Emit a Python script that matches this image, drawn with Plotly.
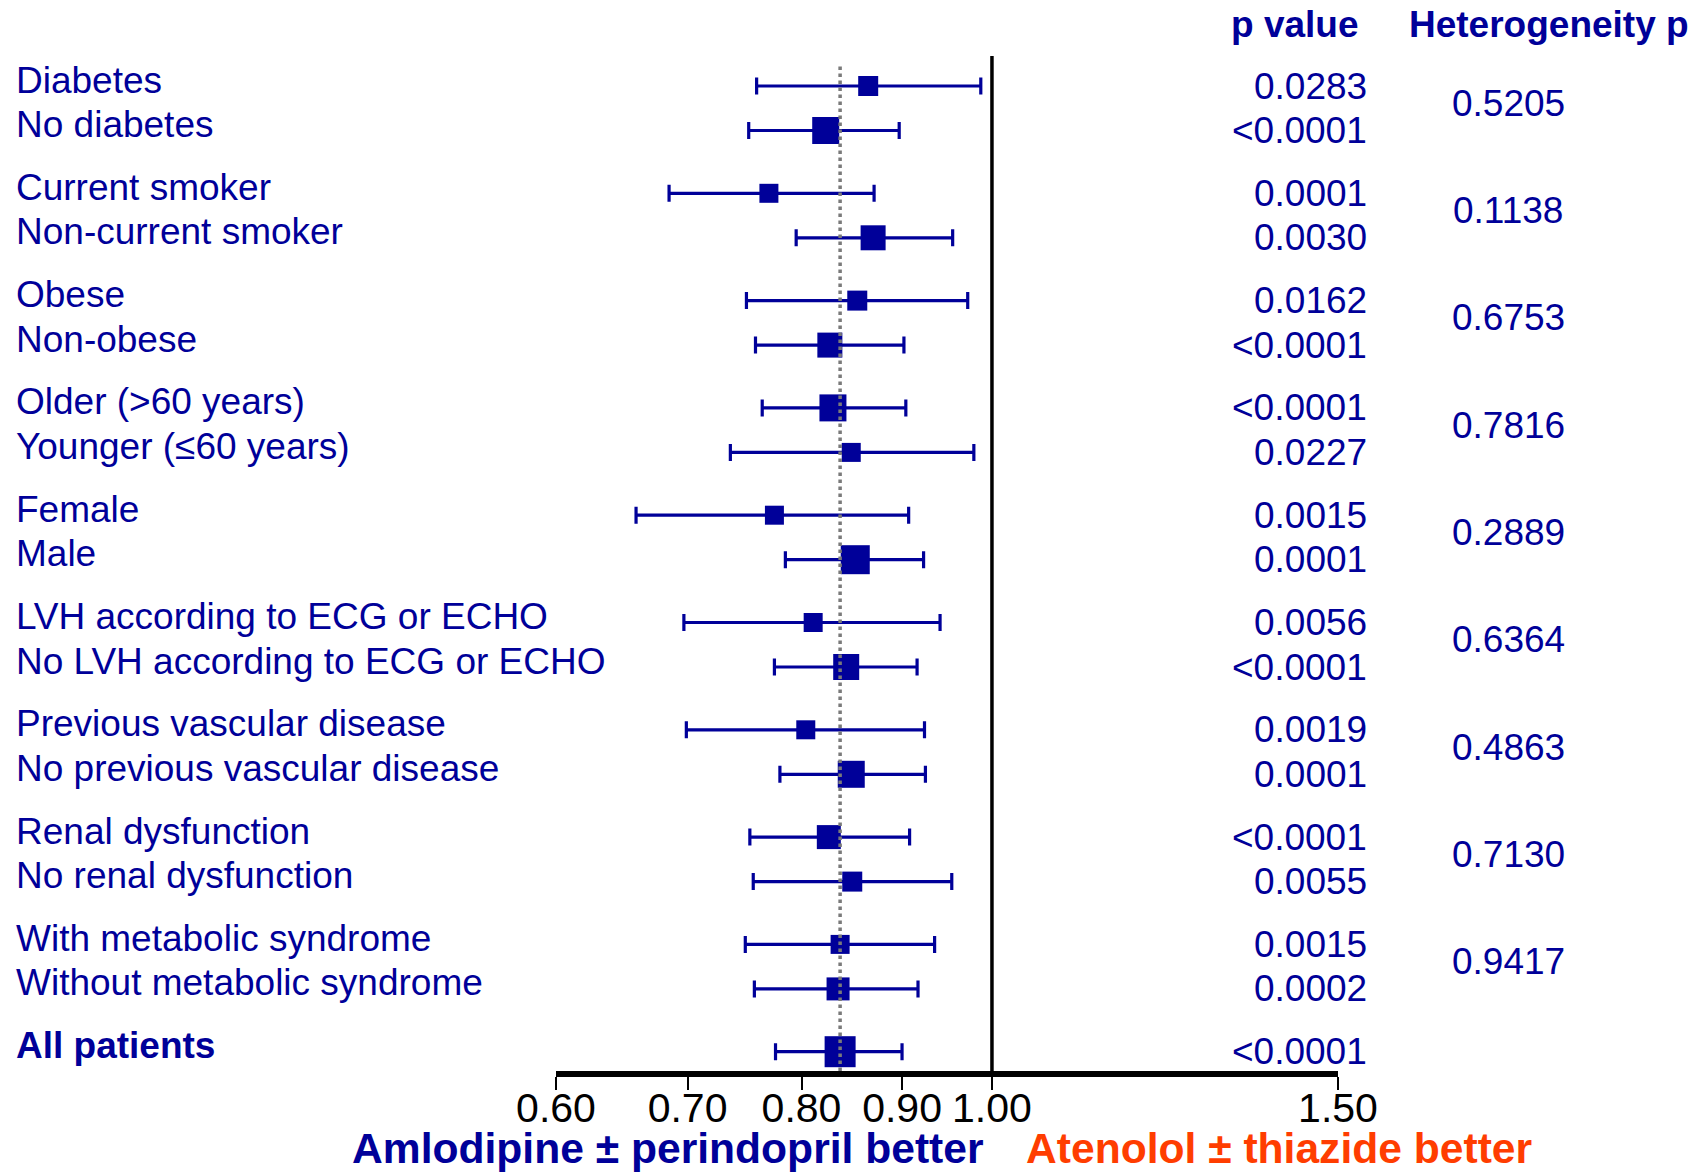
import plotly.graph_objects as go

# ---------------- data ----------------
labels = [
    "Diabetes", "No diabetes",
    "Current smoker", "Non-current smoker",
    "Obese", "Non-obese",
    "Older (>60 years)", "Younger (\u226460 years)",
    "Female", "Male",
    "LVH according to ECG or ECHO", "No LVH according to ECG or ECHO",
    "Previous vascular disease", "No previous vascular disease",
    "Renal dysfunction", "No renal dysfunction",
    "With metabolic syndrome", "Without metabolic syndrome",
    "All patients",
]
hazard_ratio = [0.865, 0.823, 0.770, 0.870, 0.854, 0.827, 0.830, 0.848, 0.775, 0.852,
                0.811, 0.843, 0.804, 0.848, 0.826, 0.849, 0.837, 0.835, 0.837]
ci_low = [0.759, 0.752, 0.685, 0.795, 0.750, 0.758, 0.764, 0.736, 0.659, 0.785,
          0.697, 0.775, 0.699, 0.780, 0.753, 0.756, 0.749, 0.757, 0.776]
ci_high = [0.987, 0.897, 0.871, 0.955, 0.972, 0.902, 0.904, 0.979, 0.907, 0.923,
           0.941, 0.916, 0.924, 0.925, 0.908, 0.954, 0.935, 0.917, 0.900]
p_values = ["0.0283", "<0.0001", "0.0001", "0.0030", "0.0162", "<0.0001",
            "<0.0001", "0.0227", "0.0015", "0.0001", "0.0056", "<0.0001",
            "0.0019", "0.0001", "<0.0001", "0.0055", "0.0015", "0.0002", "<0.0001"]
heterogeneity_p = ["0.5205", "0.1138", "0.6753", "0.7816", "0.2889",
                   "0.6364", "0.4863", "0.7130", "0.9417"]
tick_values = [0.60, 0.70, 0.80, 0.90, 1.00, 1.50]
tick_labels = ["0.60", "0.70", "0.80", "0.90", "1.00", "1.50"]

# study weight shown as box size (px)
marker_px = [20, 27, 19, 25, 20, 25, 27, 19, 19, 29, 19, 26, 19, 27, 24, 20, 19, 23, 31]

# ---------------- layout constants ----------------
W, H = 1705, 1174
L, R, T, B = 556, 367, 56, 103
PLOT_BOTTOM = H - B
PLOT_H = H - T - B
PLOT_W = W - L - R
BLUE = "#000099"
ORANGE = "#FF3D00"
FONT = "Liberation Sans, Arial, Helvetica, sans-serif"
FS = 37

ROW0, PAIR, GROUP = 86.0, 44.5, 107.3


def row_y(i):
    g, k = divmod(i, 2)
    return ROW0 + GROUP * g + PAIR * k


def paper_x(px):
    return (px - L) / PLOT_W


def paper_y(py):
    return (PLOT_BOTTOM - py) / PLOT_H


ys = [row_y(i) for i in range(len(labels))]

fig = go.Figure()
fig.add_trace(go.Scatter(
    x=hazard_ratio, y=ys, mode="markers",
    marker=dict(symbol="square", size=marker_px, color=BLUE, opacity=1,
                line=dict(width=0)),
    error_x=dict(type="data", symmetric=False,
                 array=[h - m for h, m in zip(ci_high, hazard_ratio)],
                 arrayminus=[m - l for m, l in zip(hazard_ratio, ci_low)],
                 color=BLUE, thickness=3.2, width=8.5),
    showlegend=False, hoverinfo="skip", cliponaxis=False,
))

shapes = [
    dict(type="line", xref="x", yref="y", x0=1.0, x1=1.0, y0=PLOT_BOTTOM, y1=T,
         line=dict(color="black", width=3.5), layer="above"),
    dict(type="line", xref="x", yref="y", x0=hazard_ratio[-1], x1=hazard_ratio[-1],
         y0=PLOT_BOTTOM, y1=T + 7, line=dict(color="#7a7a7a", width=3.5, dash="dot"),
         layer="above"),
]

ann = []
n = len(labels)
for i, (lab, p) in enumerate(zip(labels, p_values)):
    bold = i == n - 1
    ann.append(dict(x=paper_x(14), xref="paper", y=ys[i] - 6, yref="y",
                    text=f"<b>{lab}</b>" if bold else lab, showarrow=False,
                    xanchor="left", yanchor="middle",
                    font=dict(family=FONT, size=FS, color=BLUE)))
    ann.append(dict(x=paper_x(1369), xref="paper", y=ys[i], yref="y",
                    text=p, showarrow=False, xanchor="right", yanchor="middle",
                    font=dict(family=FONT, size=FS, color=BLUE)))

for g, hp in enumerate(heterogeneity_p):
    ymid = (ys[2 * g] + ys[2 * g + 1]) / 2 - 5
    ann.append(dict(x=paper_x(1508), xref="paper", y=ymid, yref="y",
                    text=hp, showarrow=False, xanchor="center", yanchor="middle",
                    font=dict(family=FONT, size=FS, color=BLUE)))

ann.append(dict(x=paper_x(1361), xref="paper", y=paper_y(25), yref="paper",
                text="<b>p value</b>", showarrow=False, xanchor="right", yanchor="middle",
                font=dict(family=FONT, size=FS, color=BLUE)))
ann.append(dict(x=paper_x(1407), xref="paper", y=paper_y(25), yref="paper",
                text="<b>Heterogeneity p</b>", showarrow=False, xanchor="left",
                yanchor="middle", font=dict(family=FONT, size=FS, color=BLUE)))
ann.append(dict(x=paper_x(350), xref="paper", y=paper_y(1148), yref="paper",
                text="<b>Amlodipine \u00b1 perindopril better</b>", showarrow=False,
                xanchor="left", yanchor="middle",
                font=dict(family=FONT, size=42.6, color=BLUE)))
ann.append(dict(x=paper_x(1024), xref="paper", y=paper_y(1148), yref="paper",
                text="<b>Atenolol \u00b1 thiazide better</b>", showarrow=False,
                xanchor="left", yanchor="middle",
                font=dict(family=FONT, size=42.6, color=ORANGE)))

fig.update_layout(
    width=W, height=H, autosize=False,
    margin=dict(l=L, r=R, t=T, b=B, pad=0),
    paper_bgcolor="white", plot_bgcolor="white",
    shapes=shapes, annotations=ann,
    font=dict(family=FONT),
    xaxis=dict(type="log", range=[-0.2218487496, 0.1760912591],
               showline=True, linecolor="black", linewidth=6,
               ticks="outside", ticklen=13, tickwidth=2, tickcolor="black",
               tickvals=tick_values, ticktext=tick_labels, ticklabelstandoff=-17,
               tickfont=dict(family=FONT, size=41, color="black"),
               showgrid=False, zeroline=False, fixedrange=True),
    yaxis=dict(range=[PLOT_BOTTOM, T], visible=False, showgrid=False,
               zeroline=False, fixedrange=True),
)

fig.write_html("out.html", config={"displayModeBar": False},
               post_script="document.body.style.margin='0';document.body.style.overflow='hidden';")
